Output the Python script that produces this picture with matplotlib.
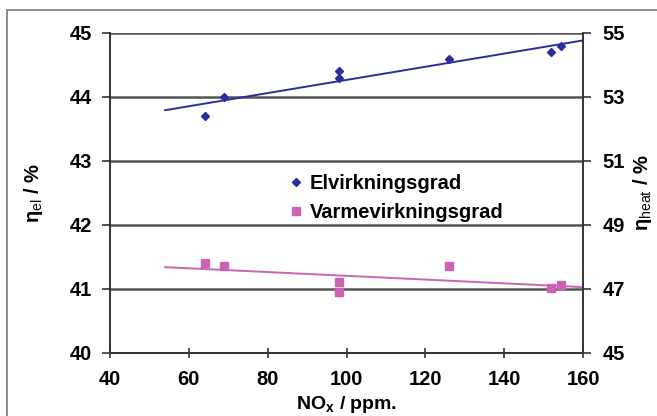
import numpy as np
import matplotlib
matplotlib.use("Agg")
import matplotlib.pyplot as plt
from matplotlib.patches import Rectangle

# data
nox = [64, 69, 98, 98, 126, 152, 154.5]
eta_el = [43.7, 44.0, 44.4, 44.3, 44.6, 44.7, 44.8]
eta_heat = [47.8, 47.73, 47.23, 46.9, 47.72, 47.02, 47.12]
trend_range = [54, 160]

x_ticks = [40, 60, 80, 100, 120, 140, 160]
el_ticks = [40, 41, 42, 43, 44, 45]
heat_ticks = [45, 47, 49, 51, 53, 55]

blue = '#2a2f9c'
pink = '#cc62b4'
grid_col = '#555555'

plt.rcParams['font.family'] = 'Liberation Sans'
plt.rcParams['mathtext.fontset'] = 'custom'
plt.rcParams['mathtext.rm'] = 'Liberation Sans'
plt.rcParams['mathtext.bf'] = 'Liberation Sans:bold'

fig = plt.figure(figsize=(6.57, 4.16), dpi=100)
fig.patches.append(Rectangle((7 / 657, -0.05), 1.0, (416 - 10) / 416 + 0.05,
                             transform=fig.transFigure, fill=False,
                             edgecolor='#777777', linewidth=1.2))

ax = fig.add_axes([110 / 657, 63 / 416, 473 / 657, 320 / 416])
ax2 = ax.twinx()

# gridlines
for t in el_ticks:
    ax.axhline(t, color=grid_col, linewidth=1.8, zorder=0)

ax.plot(nox, eta_el, linestyle='none', marker='D', markersize=4.5,
        color=blue, label='Elvirkningsgrad', zorder=3)
ax2.plot(nox, eta_heat, linestyle='none', marker='s', markersize=6,
         color=pink, label='Varmevirkningsgrad', zorder=3)

# lineære trendlinjer
tx = np.array(trend_range)
p_el = np.polyfit(nox, eta_el, 1)
p_heat = np.polyfit(nox, eta_heat, 1)
ax.plot(tx, np.polyval(p_el, tx), color=blue, linewidth=1.4, zorder=2)
ax2.plot(tx, np.polyval(p_heat, tx), color=pink, linewidth=1.4, zorder=2)

ax.set_xlim(40, 160)
ax.set_ylim(40, 45)
ax2.set_ylim(45, 55)
ax.set_xticks(x_ticks)
ax.set_yticks(el_ticks)
ax2.set_yticks(heat_ticks)

for a in (ax, ax2):
    for s in a.spines.values():
        s.set_color('#333333')
        s.set_linewidth(1.2)
    a.spines['top'].set_visible(False)

ax.tick_params(axis='x', direction='inout', length=7, width=1.2,
               labelsize=14.5, pad=9, color='#333333')
ax.tick_params(axis='y', direction='out', length=6, width=1.2,
               labelsize=14.5, pad=7, color='#333333')
ax2.tick_params(axis='y', direction='out', length=6, width=1.2,
                labelsize=14.5, pad=8, color='#333333')
for lab in ax.get_xticklabels() + ax.get_yticklabels() + ax2.get_yticklabels():
    lab.set_fontweight('bold')

ax.set_xlabel(r'NO$_\mathbf{x}$ / ppm.', fontsize=14, fontweight='bold', labelpad=3)
ax.set_ylabel(r'η$_{\mathrm{el}}$ / %', fontsize=14.5, fontweight='bold', labelpad=18)
ax2.set_ylabel(r'η$_{\mathrm{heat}}$ / %', fontsize=14.5, fontweight='bold', labelpad=4)

h1, l1 = ax.get_legend_handles_labels()
h2, l2 = ax2.get_legend_handles_labels()
leg = ax2.legend(h1 + h2, l1 + l2, loc='upper left', bbox_to_anchor=(0.345, 0.615),
                 frameon=False, prop={'weight': 'bold', 'size': 14.5},
                 handlelength=0.5, handletextpad=0.4, labelspacing=0.5,
                 markerscale=0.9)

fig.savefig('out.png', dpi=100)
